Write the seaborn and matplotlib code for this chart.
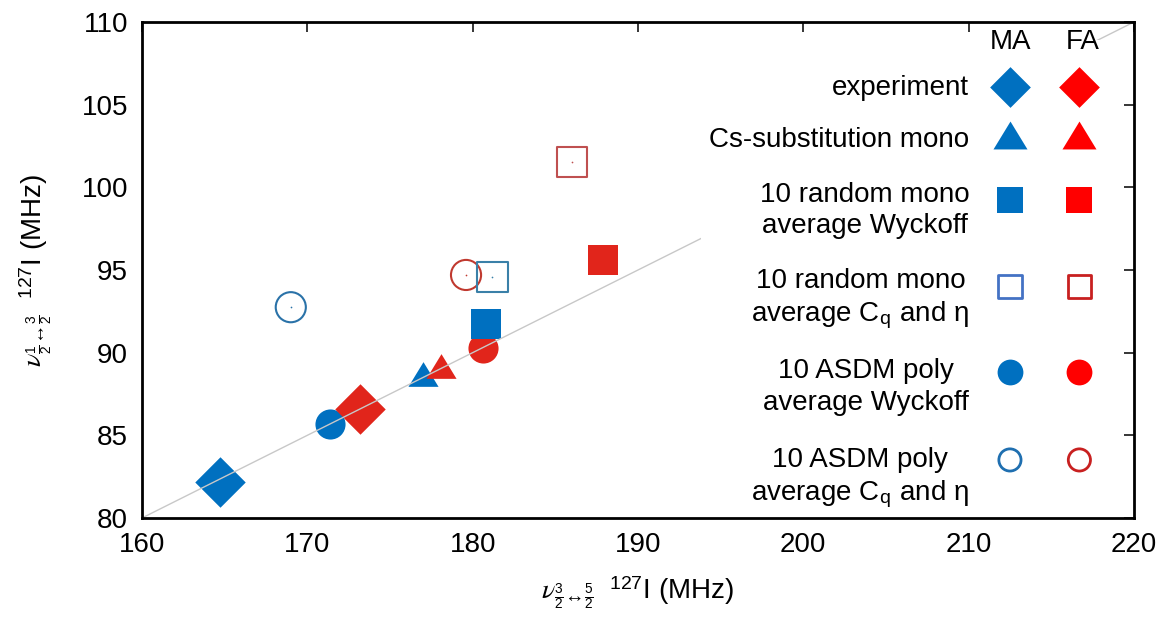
import numpy as np
import pandas as pd
import matplotlib
matplotlib.use("Agg")
import matplotlib.pyplot as plt
from matplotlib.path import Path
from matplotlib.patches import Rectangle
import seaborn as sns

# ---------------- data ----------------
categories = [
    "experiment",
    "Cs-substitution mono",
    "10 random mono\naverage Wyckoff",
    "10 random mono\naverage C$_\\mathrm{q}$ and η",
    "10 ASDM poly\naverage Wyckoff",
    "10 ASDM poly\naverage C$_\\mathrm{q}$ and η",
]
groups = ["MA", "FA"]
ma_x = [164.7, 177.0, 180.8, 181.2, 171.4, 169.0]
ma_y = [82.2, 88.7, 91.75, 94.6, 85.7, 92.75]
fa_x = [173.2, 178.1, 187.9, 186.0, 180.6, 179.6]
fa_y = [86.6, 89.2, 95.6, 101.55, 90.3, 94.7]
x_ticks = [160, 170, 180, 190, 200, 210, 220]
y_ticks = [80, 85, 90, 95, 100, 105, 110]

# ---------------- style ----------------
sns.set_style("white")
plt.rcParams["font.family"] = ["Liberation Sans", "DejaVu Sans"]
plt.rcParams["mathtext.fontset"] = "custom"
plt.rcParams["mathtext.rm"] = "Liberation Sans"
plt.rcParams["mathtext.it"] = "STIXGeneral:italic"
plt.rcParams["mathtext.bf"] = "Liberation Sans:bold"
for k in ["text.color", "axes.labelcolor", "xtick.color", "ytick.color", "axes.edgecolor"]:
    plt.rcParams[k] = "black"

tri = Path([(-0.5, -0.41), (0.5, -0.41), (0.0, 0.41), (-0.5, -0.41)],
           [Path.MOVETO, Path.LINETO, Path.LINETO, Path.CLOSEPOLY])
markers = ["D", tri, "s", "s", "o", "o"]
filled = [True, True, True, False, True, False]
plot_s = [660, 470, 470, 470, 470, 470]
leg_s = [430, 600, 330, 280, 345, 255]
plot_col = {"MA": ["#0070C0", "#0070C0", "#0070C0", "#3A80A8", "#0070C0", "#2A72A8"],
            "FA": ["#E1251B", "#E1251B", "#E1251B", "#BF5050", "#E1251B", "#C0392F"]}
leg_col = {"MA": ["#0070C0", "#0070C0", "#0070C0", "#4472C4", "#0070C0", "#1F6FB0"],
           "FA": ["#FF0000", "#FF0000", "#FF0000", "#C82020", "#FF0000", "#C82020"]}

df = pd.DataFrame({
    "category": categories * 2,
    "group": ["MA"] * len(categories) + ["FA"] * len(categories),
    "x": ma_x + fa_x,
    "y": ma_y + fa_y,
})

fig = plt.figure(figsize=(11.61, 6.24), dpi=100)
ax = fig.add_axes([0.1223, 0.1699, 0.8544, 0.7948])

# data points (reverse category order for overlap order)
for i in reversed(range(len(categories))):
    for g in groups:
        sub = df[(df["category"] == categories[i]) & (df["group"] == g)]
        c = plot_col[g][i]
        if filled[i]:
            sns.scatterplot(data=sub, x="x", y="y", marker=markers[i], s=plot_s[i],
                            color=c, edgecolor=c, linewidth=0, ax=ax, legend=False, zorder=1)
        else:
            sns.scatterplot(data=sub, x="x", y="y", marker=markers[i], s=plot_s[i],
                            color=c, facecolor="none", edgecolor=c, linewidth=1.5,
                            ax=ax, legend=False, zorder=1)
            sns.scatterplot(data=sub, x="x", y="y", marker="o", s=1.5, color=c,
                            edgecolor=c, linewidth=0, ax=ax, legend=False, zorder=1)

ax.set_xlim(x_ticks[0], x_ticks[-1])
ax.set_ylim(y_ticks[0], y_ticks[-1])

# y = x/2 reference line
lx = np.array([x_ticks[0], x_ticks[-1]], dtype=float)
sns.lineplot(x=lx, y=lx / 2, color="#C8C8C8", linewidth=1.0, ax=ax, zorder=2.2)

# white legend background
ax.add_patch(Rectangle((193.8, 80), 26.2, 28.9, facecolor="white", edgecolor="none", zorder=2.3))

# legend
header_x = [0.876, 0.948]
for g, hx in zip(groups, header_x):
    ax.text(hx, 0.960, g, transform=ax.transAxes, ha="center", va="center", fontsize=20, zorder=3)
row_marker_y = [0.869, 0.772, 0.641, 0.466, 0.294, 0.117]
row_text_y = [0.867, 0.762, 0.620, 0.440, 0.264, 0.079]
marker_x = {"MA": 0.875, "FA": 0.945}
for i, cat in enumerate(categories):
    ax.text(0.834, row_text_y[i], cat, transform=ax.transAxes, ha="right", va="center",
            multialignment="center", fontsize=20, linespacing=1.27, zorder=3)
    for g in groups:
        c = leg_col[g][i]
        if filled[i]:
            ax.scatter([marker_x[g]], [row_marker_y[i]], transform=ax.transAxes, marker=markers[i],
                       s=leg_s[i], color=c, edgecolors=c, linewidths=0, zorder=3, clip_on=False)
        else:
            ax.scatter([marker_x[g]], [row_marker_y[i]], transform=ax.transAxes, marker=markers[i],
                       s=leg_s[i], facecolors="none", edgecolors=c, linewidths=2.0, zorder=3,
                       clip_on=False)

ax.set_xlim(x_ticks[0], x_ticks[-1])
ax.set_ylim(y_ticks[0], y_ticks[-1])
ax.set_xticks(x_ticks)
ax.set_yticks(y_ticks)
ax.set_axisbelow(False)
ax.tick_params(direction="in", top=True, right=True, length=7, width=1.1,
               labelsize=20, pad=10)
for sp in ax.spines.values():
    sp.set_linewidth(2.0)
    sp.set_color("black")
    sp.set_zorder(4)

ax.set_xlabel(r"$\nu_{\frac{3}{2}\!\leftrightarrow\!\frac{5}{2}}\ \ ^{127}$I (MHz)", fontsize=20, labelpad=12)
ax.set_ylabel(r"$\nu_{\frac{1}{2}\!\leftrightarrow\!\frac{3}{2}}\ \ ^{127}$I (MHz)", fontsize=20)
ax.yaxis.set_label_coords(-0.089, 0.5)

fig.savefig("out.png", dpi=100)
